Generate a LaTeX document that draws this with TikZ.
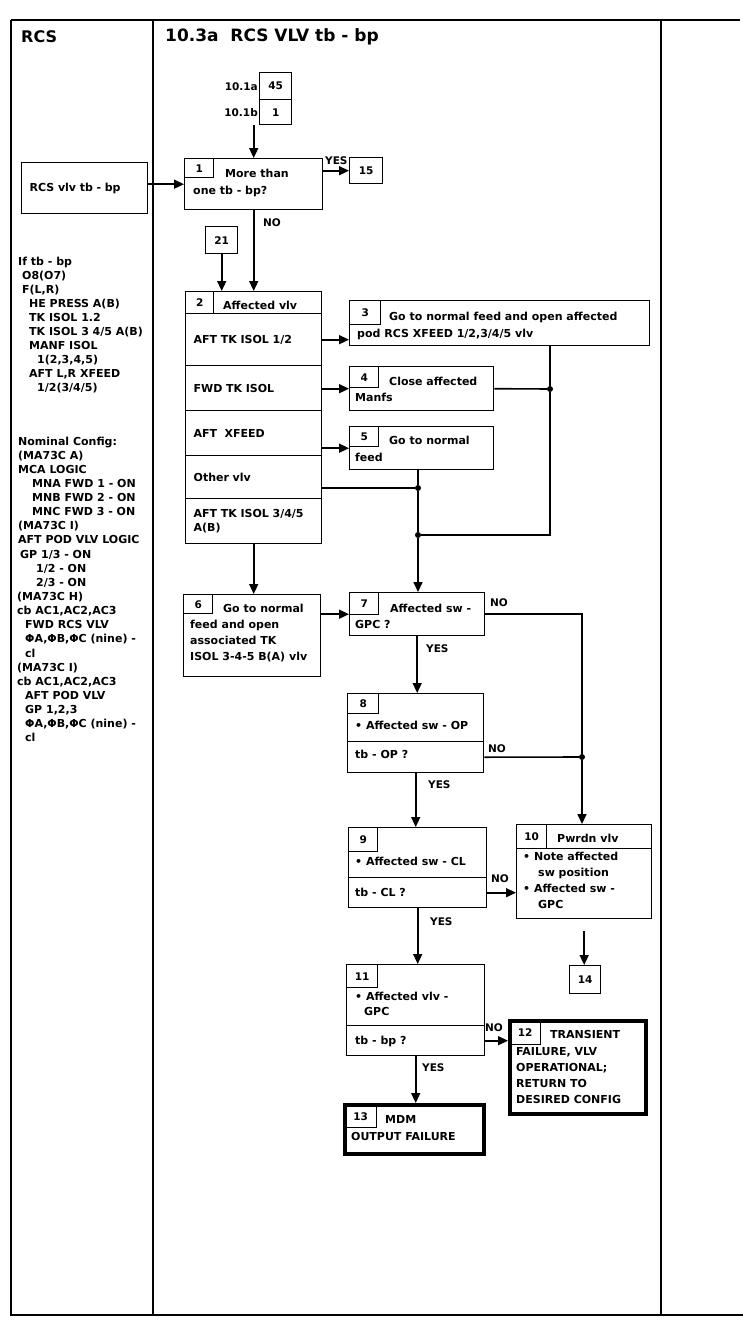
\documentclass[tikz,border=0pt]{standalone}
\usepackage{fontspec}
\setmainfont{DejaVu Sans}
\usetikzlibrary{arrows.meta,calc}

\tikzset{
  rule/.style={line width=1.5pt},
  box/.style={draw, line width=1.4pt, anchor=north west, inner sep=0pt},
  endbox/.style={box, line width=3.5pt},
  numcell/.style={draw, line width=1.4pt, anchor=north west, inner sep=0pt,
    font=\bfseries\fontsize{10.5}{12}\selectfont},
  rowbox/.style={draw, line width=1.4pt, anchor=north west, inner xsep=8pt, inner ysep=0pt,
    text width=120pt, align=left, font=\bfseries\fontsize{11}{14}\selectfont},
  txt/.style={anchor=base west, inner sep=0pt, font=\bfseries\fontsize{11}{14}\selectfont},
  note/.style={txt},
  head/.style={anchor=base west, inner sep=0pt, font=\bfseries\fontsize{17}{19}\selectfont},
  lbl/.style={anchor=base west, inner sep=0pt, font=\bfseries\fontsize{10.5}{12}\selectfont},
  flow/.style={line width=1.6pt, -{Triangle[length=10pt,width=9pt]}},
  link/.style={line width=1.6pt},
  junction/.style={circle, fill, inner sep=0pt, minimum size=6pt},
}

\begin{document}
\begin{tikzpicture}[x=1pt,y=-1pt]
\useasboundingbox (0,0) rectangle (743,1320);

% page rules
\draw[rule] (11,20) -- (740,20);
\draw[rule] (11,20) -- (11,1315) -- (743,1315);
\draw[rule] (153,20) -- (153,1315);
\draw[rule] (661,20) -- (661,1315);

\node[head, font=\bfseries\fontsize{16}{18}\selectfont] (rcshead) at (21,42) {RCS};
\node[head] (title) at (165,41) {10.3a\ \ RCS VLV tb - bp};

% left column notes
\foreach \i/\x/\t in {0/18/{If tb - bp}, 1/22/{O8(O7)}, 2/22/{F(L,R)}, 3/29/{HE PRESS A(B)},
    4/29/{TK ISOL 1.2}, 5/29/{TK ISOL 3 4/5 A(B)}, 6/29/{MANF ISOL}, 7/37/{1(2,3,4,5)},
    8/29/{AFT L,R XFEED}, 9/37/{1/2(3/4/5)}} {
  \node[note] (na\i) at (\x,265+14*\i) {\t};
}
\foreach \i/\x/\t in {0/18/{Nominal Config:}, 1/18/{(MA73C A)}, 2/18/{MCA LOGIC},
    3/32/{MNA FWD 1 - ON}, 4/32/{MNB FWD 2 - ON}, 5/32/{MNC FWD 3 - ON}, 6/18/{(MA73C I)},
    7/18/{AFT POD VLV LOGIC}, 8/20/{GP 1/3 - ON}, 9/36/{1/2 - ON}, 10/36/{2/3 - ON},
    11/17/{(MA73C H)}, 12/17/{cb AC1,AC2,AC3}, 13/25/{FWD RCS VLV}, 14/25/{ΦA,ΦB,ΦC (nine) -},
    15/25/{cl}, 16/17/{(MA73C I)}, 17/17/{cb AC1,AC2,AC3}, 18/25/{AFT POD VLV},
    19/25/{GP 1,2,3}, 20/25/{ΦA,ΦB,ΦC (nine) -}, 21/25/{cl}} {
  \node[note] (nb\i) at (\x,445+14.14*\i) {\t};
}

\node[box, minimum width=126pt, minimum height=51pt, inner xsep=8pt, text width=110pt,
  align=left, font=\bfseries\fontsize{11}{14}\selectfont] (rcs) at (21,162) {RCS vlv tb - bp};

% entry boxes
\node[numcell, minimum width=32pt, minimum height=27pt] (e1) at (259,72) {45};
\node[numcell, minimum width=32pt, minimum height=25pt] (e2) at (259,99) {1};
\node[lbl, anchor=east] (la) at ([xshift=-1pt]e1.west) {10.1a};
\node[lbl, anchor=east] (lb) at ([xshift=-1pt]e2.west) {10.1b};

% 1
\node[box, minimum width=138pt, minimum height=51pt] (s1) at (184,158) {};
\node[numcell, minimum width=29pt, minimum height=19pt] (s1n) at (s1.north west) {1};
\node[txt] (s1a) at (225,177) {More than};
\node[txt] (s1b) at (193,194) {one tb - bp?};

\node[numcell, minimum width=33pt, minimum height=26pt] (b15) at (349,157) {15};
\node[numcell, minimum width=32pt, minimum height=27pt] (b21) at (205,226) {21};

% 2
\node[box, minimum width=136pt, minimum height=252pt] (b2) at (185,291) {};
\node[numcell, minimum width=28pt, minimum height=22pt] (b2n) at (b2.north west) {2};
\node[txt] (b2a) at (223,309) {Affected vlv};
\node[rowbox, minimum height=52pt] (r1) at (185,313) {AFT TK ISOL 1/2};
\node[rowbox, minimum height=45pt] (r2) at (185,365) {FWD TK ISOL};
\node[rowbox, minimum height=45pt] (r3) at (185,410) {AFT\ \ XFEED};
\node[rowbox, minimum height=43pt] (r4) at (185,455) {Other vlv};
\node[rowbox, minimum height=45pt] (r5) at (185,498) {AFT TK ISOL 3/4/5\\A(B)};

% 3, 4, 5
\node[box, minimum width=300pt, minimum height=45pt] (b3) at (349,300) {};
\node[numcell, minimum width=31pt, minimum height=24pt] (b3n) at (b3.north west) {3};
\node[txt] (b3a) at (389,320) {Go to normal feed and open affected};
\node[txt] (b3b) at (357,337) {pod RCS XFEED 1/2,3/4/5 vlv};

\node[box, minimum width=144pt, minimum height=44pt] (b4) at (349,366) {};
\node[numcell, minimum width=29pt, minimum height=21pt] (b4n) at (b4.north west) {4};
\node[txt] (b4a) at (389,385) {Close affected};
\node[txt] (b4b) at (355,401) {Manfs};

\node[box, minimum width=144pt, minimum height=43pt] (b5) at (349,426) {};
\node[numcell, minimum width=29pt, minimum height=20pt] (b5n) at (b5.north west) {5};
\node[txt] (b5a) at (389,444) {Go to normal};
\node[txt] (b5b) at (355,461) {feed};

% 6, 7
\node[box, minimum width=137pt, minimum height=82pt] (b6) at (183,594) {};
\node[numcell, minimum width=29pt, minimum height=19pt] (b6n) at (b6.north west) {6};
\node[txt] (b6a) at (223,612) {Go to normal};
\node[txt] (b6b) at (190,628) {feed and open};
\node[txt] (b6c) at (190,644) {associated TK};
\node[txt] (b6d) at (190,660) {ISOL 3-4-5 B(A) vlv};

\node[box, minimum width=135pt, minimum height=43pt] (b7) at (349,592) {};
\node[numcell, minimum width=29pt, minimum height=22pt] (b7n) at (b7.north west) {7};
\node[txt] (b7a) at (390,612) {Affected sw -};
\node[txt] (b7b) at (355,628) {GPC ?};

% 8, 9
\node[box, minimum width=136pt, minimum height=79pt] (b8) at (347,693) {};
\node[numcell, minimum width=31pt, minimum height=20pt] (b8n) at (b8.north west) {8};
\node[box, minimum width=136pt, minimum height=31pt] (b8r) at (347,741) {};
\node[txt] (b8a) at (355,729) {• Affected sw - OP};
\node[txt] (b8b) at (355,758) {tb - OP ?};

\node[box, minimum width=138pt, minimum height=80pt] (b9) at (348,827) {};
\node[numcell, minimum width=29pt, minimum height=24pt] (b9n) at (b9.north west) {9};
\node[box, minimum width=138pt, minimum height=30pt] (b9r) at (348,877) {};
\node[txt] (b9a) at (355,865) {• Affected sw - CL};
\node[txt] (b9b) at (355,896) {tb - CL ?};

% 10, 14
\node[box, minimum width=135pt, minimum height=94pt] (b10) at (516,824) {};
\node[box, minimum width=135pt, minimum height=24pt] (b10h) at (516,824) {};
\node[numcell, minimum width=30pt, minimum height=24pt] (b10n) at (b10.north west) {10};
\node[txt] (b10a) at (557,842) {Pwrdn vlv};
\node[txt] (b10b) at (523,860) {• Note affected};
\node[txt] (b10c) at (538,876) {sw position};
\node[txt] (b10d) at (523,892) {• Affected sw -};
\node[txt] (b10e) at (538,908) {GPC};
\node[numcell, minimum width=31pt, minimum height=28pt] (b14) at (569,965) {14};

% 11, 12, 13
\node[box, minimum width=138pt, minimum height=91pt] (b11) at (346,964) {};
\node[numcell, minimum width=31pt, minimum height=23pt] (b11n) at (b11.north west) {11};
\node[box, minimum width=138pt, minimum height=30pt] (b11r) at (346,1025) {};
\node[txt] (b11a) at (355,1000) {• Affected vlv -};
\node[txt] (b11b) at (364,1015) {GPC};
\node[txt] (b11c) at (355,1044) {tb - bp ?};

\node[endbox, minimum width=136pt, minimum height=93pt] (b12) at (508,1019) {};
\node[numcell, minimum width=30pt, minimum height=23pt] (b12n) at ([shift={(1.5,1.5)}]b12.north west) {12};
\node[txt] (b12a) at (550,1038) {TRANSIENT};
\node[txt] (b12b) at (516,1055) {FAILURE, VLV};
\node[txt] (b12c) at (516,1071) {OPERATIONAL;};
\node[txt] (b12d) at (516,1087) {RETURN TO};
\node[txt] (b12e) at (516,1103) {DESIRED CONFIG};

\node[endbox, minimum width=139pt, minimum height=49pt] (b13) at (343,1103) {};
\node[numcell, minimum width=31pt, minimum height=22pt] (b13n) at ([shift={(1.5,1.5)}]b13.north west) {13};
\node[txt] (b13a) at (385,1123) {MDM};
\node[txt] (b13b) at (351,1140) {OUTPUT FAILURE};

% junctions
\node[junction] (j1) at (418,488) {};
\node[junction] (j2) at (418,535) {};
\node[junction] (j3) at (550,389) {};
\node[junction] (j4) at (582,757) {};

% connectors
\draw[flow] (s1.north |- e2.south) -- (s1.north);
\draw[flow] (rcs.east |- s1.west) -- (s1.west);
\draw[flow] (s1.east |- b15.west) -- (b15.west);
\node[lbl] (yes1) at (325,164) {YES};
\draw[flow] (s1.south) -- (s1.south |- b2.north);
\node[lbl] (no1) at (263,226) {NO};
\draw[flow] (b21.south) -- (b21.south |- b2.north);

\draw[flow] (r1.east) -- (r1.east -| b3.west);
\draw[flow] (r2.east |- b4.west) -- (b4.west);
\draw[flow] (r3.east |- b5.west) -- (b5.west);
\draw[link] (j3 |- b3.south) -- (j3) -- (j3 |- j2) -- (j2);
\draw[link] (b4.east) -- (j3);
\draw[link] (j1 |- b5.south) -- (j1) -- (j2);
\draw[link] (r4.east |- j1) -- (j1);
\draw[flow] (j2) -- (j2 |- b7.north);

\draw[flow] (r5.south) -- (r5.south |- b6.north);
\draw[flow] (b6.east |- b7.west) -- (b7.west);

\draw[link] (b7.east) -- (b7.east -| j4) -- (j4);
\node[lbl] (no7) at (490,606) {NO};
\draw[flow] (b7.south) -- (b7.south |- b8.north);
\node[lbl] (yes7) at (426,652) {YES};

\draw[link] (b8r.east) -- (j4);
\node[lbl] (no8) at (488,752) {NO};
\draw[flow] (j4) -- (j4 |- b10.north);
\draw[flow] (b8.south) -- (b8.south |- b9.north);
\node[lbl] (yes8) at (428,788) {YES};

\draw[flow] (b9r.east) -- (b9r.east -| b10.west);
\node[lbl] (no9) at (491,882) {NO};
\draw[flow, shorten <=12pt] (b10.south) -- (b10.south |- b14.north);
\draw[flow] (b9.south) -- (b9.south |- b11.north);
\node[lbl] (yes9) at (430,925) {YES};

\draw[flow] (b11r.east) -- (b11r.east -| b12.west);
\node[lbl] (no11) at (485,1031) {NO};
\draw[flow] (b11.south) -- (b11.south |- b13.north);
\node[lbl] (yes11) at (422,1071) {YES};
\end{tikzpicture}
\end{document}
